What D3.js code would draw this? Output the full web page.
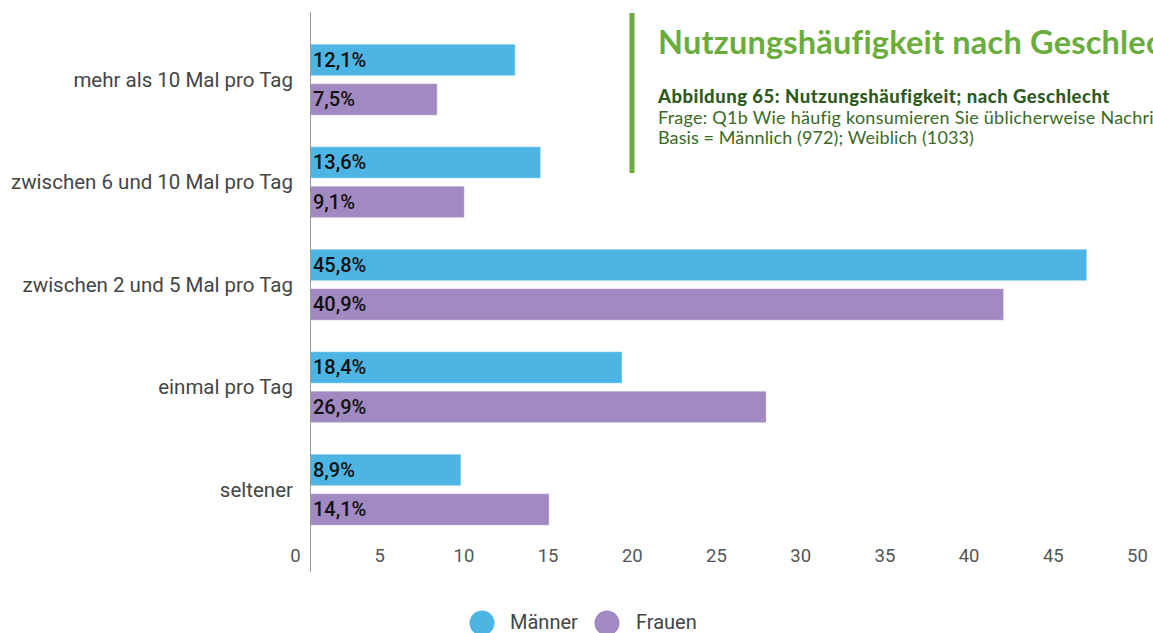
<!DOCTYPE html>
<html>
<head>
<meta charset="utf-8">
<script src="https://cdn.jsdelivr.net/npm/d3@7"></script>
<style>
  html, body { margin: 0; padding: 0; background: #fff; overflow: hidden; }
  svg { display: block; }
</style>
</head>
<body>
<svg id="chart" width="1153" height="633"></svg>
<script>
// Categories, top to bottom
const categories = [
  "mehr als 10 Mal pro Tag",
  "zwischen 6 und 10 Mal pro Tag",
  "zwischen 2 und 5 Mal pro Tag",
  "einmal pro Tag",
  "seltener"
];
const seriesNames = ["Männer", "Frauen"];
const maenner = [12.1, 13.6, 45.8, 18.4, 8.9];
const frauen  = [7.5, 9.1, 40.9, 26.9, 14.1];
const tickValues = [0, 5, 10, 15, 20, 25, 30, 35, 40, 45, 50];

const title = "Nutzungshäufigkeit nach Geschlecht";
const subtitle = "Abbildung 65: Nutzungshäufigkeit; nach Geschlecht";
const question = "Frage: Q1b Wie häufig konsumieren Sie üblicherweise Nachrichten?";
const basis = "Basis = Männlich (972); Weiblich (1033)";

const colors = { "Männer": "#4db5e4", "Frauen": "#a189c2" };

const rows = categories.map((c, i) => ({ cat: c, values: [
  { key: "Männer", value: maenner[i] },
  { key: "Frauen", value: frauen[i] }
]}));

const svg = d3.select("#chart");
const fmt = v => d3.format(".1f")(v).replace(".", ",") + "%";

// Scales
const x = d3.scaleLinear().domain([0, 50]).range([310, 1158]);
const xTicks = d3.scaleLinear().domain([0, 50]).range([295, 1137]);
const y = d3.scaleBand().domain(categories).range([28.45, 540.95])
  .paddingInner(0.307).paddingOuter(0.1535);
const ySub = d3.scaleBand().domain(seriesNames).range([0, y.bandwidth()]).paddingInner(0.2);

// Category labels
svg.append("g")
  .selectAll("text")
  .data(categories)
  .join("text")
  .attr("x", 293)
  .attr("y", d => y(d) + y.bandwidth() / 2)
  .attr("text-anchor", "end")
  .attr("dominant-baseline", "central")
  .attr("font-family", "Roboto")
  .attr("font-size", 20.5)
  .attr("fill", "#454545")
  .text(d => d);

// Bars
const groups = svg.append("g").selectAll("g")
  .data(rows)
  .join("g")
  .attr("transform", d => `translate(0,${y(d.cat)})`);

groups.selectAll("rect")
  .data(d => d.values)
  .join("rect")
  .attr("x", x(0))
  .attr("y", d => ySub(d.key))
  .attr("width", d => x(d.value) - x(0))
  .attr("height", ySub.bandwidth())
  .attr("fill", d => colors[d.key])
  .attr("stroke", "rgba(255,255,255,0.45)")
  .attr("stroke-width", 1);

groups.selectAll("text")
  .data(d => d.values)
  .join("text")
  .attr("x", x(0) + 3)
  .attr("y", d => ySub(d.key) + ySub.bandwidth() / 2)
  .attr("dominant-baseline", "central")
  .attr("font-family", "Roboto")
  .attr("font-weight", 500)
  .attr("font-size", 20)
  .attr("fill", "#111")
  .text(d => fmt(d.value));

// Vertical axis line
svg.append("line")
  .attr("x1", 310.5).attr("x2", 310.5)
  .attr("y1", 12).attr("y2", 572)
  .attr("stroke", "#999").attr("stroke-width", 1);

// X tick labels
const xAxis = d3.axisBottom(xTicks).tickValues(tickValues).tickSize(0).tickPadding(0)
  .tickFormat(d3.format("d"));
const gx = svg.append("g").attr("transform", "translate(0,549)").call(xAxis);
gx.select(".domain").remove();
gx.selectAll("text")
  .attr("font-family", "Roboto")
  .attr("font-size", 18.5)
  .attr("fill", "#555")
  .attr("dy", "0.71em");

// Legend
const legend = svg.append("g");
const legendItems = [
  { key: "Männer", cx: 482, tx: 510 },
  { key: "Frauen", cx: 607, tx: 636 }
];
legend.selectAll("circle").data(legendItems).join("circle")
  .attr("cx", d => d.cx).attr("cy", 623).attr("r", 12.5)
  .attr("fill", d => colors[d.key]);
legend.selectAll("text").data(legendItems).join("text")
  .attr("x", d => d.tx).attr("y", 622)
  .attr("dominant-baseline", "central")
  .attr("font-family", "Roboto")
  .attr("font-size", 20)
  .attr("fill", "#444")
  .text(d => d.key);

// Title block
svg.append("rect")
  .attr("x", 629.5).attr("y", 13).attr("width", 5).attr("height", 160)
  .attr("fill", "#6aad3d");
svg.append("text")
  .attr("x", 658).attr("y", 54)
  .attr("font-family", "Lato").attr("font-weight", 700).attr("font-size", 32.5)
  .attr("letter-spacing", 0.2)
  .attr("fill", "#6aad3d")
  .text(title);
svg.append("text")
  .attr("x", 658).attr("y", 102.5)
  .attr("font-family", "Lato").attr("font-weight", 900).attr("font-size", 18.5)
  .attr("letter-spacing", 0.5)
  .attr("fill", "#2f5a1d")
  .text(subtitle);
svg.append("text")
  .attr("x", 658).attr("y", 123.5)
  .attr("font-family", "Lato").attr("font-size", 18)
  .attr("letter-spacing", 0.25)
  .attr("fill", "#3b6a26")
  .text(question);
svg.append("text")
  .attr("x", 658).attr("y", 144)
  .attr("font-family", "Lato").attr("font-size", 18)
  .attr("letter-spacing", 0.1)
  .attr("fill", "#3b6a26")
  .text(basis);
</script>
</body>
</html>
